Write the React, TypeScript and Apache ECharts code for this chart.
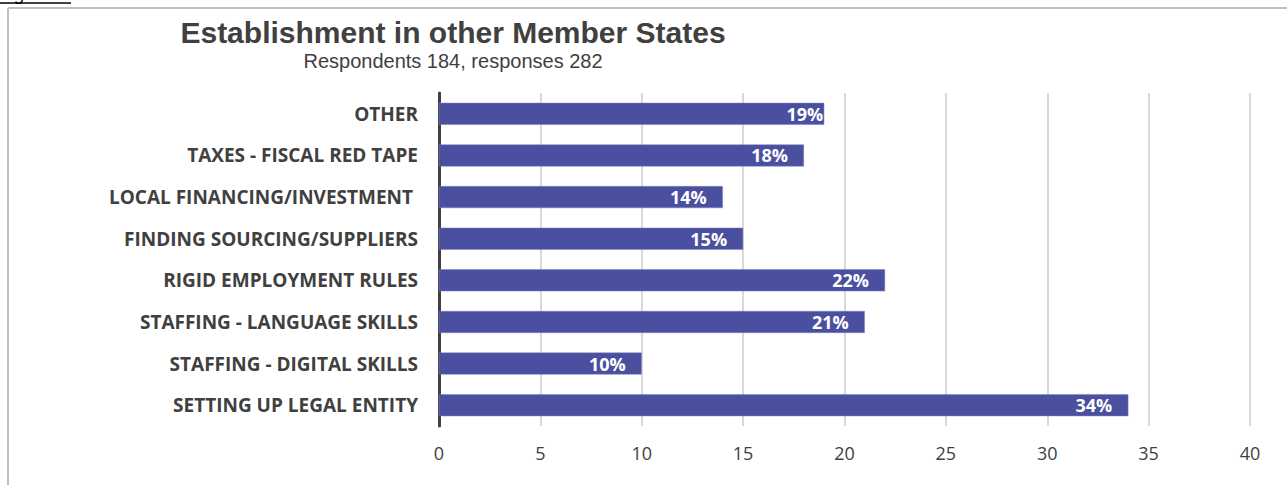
import React, { useEffect, useRef } from "react";
import * as echarts from "echarts";

const categories = [
  "SETTING UP LEGAL ENTITY",
  "STAFFING - DIGITAL SKILLS",
  "STAFFING - LANGUAGE SKILLS",
  "RIGID EMPLOYMENT RULES",
  "FINDING SOURCING/SUPPLIERS",
  "LOCAL FINANCING/INVESTMENT ",
  "TAXES - FISCAL RED TAPE",
  "OTHER",
];
const values = [34, 10, 21, 22, 15, 14, 18, 19];
const titleText = "Establishment in other Member States";
const subtitleText = "Respondents 184, responses 282";
const figText = "Fig. 3";

export default function App() {
  const ref = useRef<HTMLDivElement>(null);
  useEffect(() => {
    if (!ref.current) return;
    const chart = echarts.init(ref.current, null, { renderer: "svg" });
    const seriesData = values.map((v, i) =>
      categories[i] === "OTHER" ? { value: v, label: { distance: 1 } } : { value: v }
    );
    chart.setOption({
      animation: false,
      backgroundColor: "#ffffff",
      title: {
        text: titleText,
        subtext: subtitleText,
        left: 448,
        textAlign: "center",
        top: 12,
        itemGap: 4,
        textStyle: {
          fontFamily: "Liberation Sans, Arial, sans-serif",
          fontSize: 30,
          fontWeight: "bold",
          color: "#404040",
        },
        subtextStyle: {
          fontFamily: "Liberation Sans, Arial, sans-serif",
          fontSize: 20,
          color: "#404040",
        },
      },
      graphic: [
        {
          type: "line",
          shape: { x1: 8, y1: 8, x2: 1300, y2: 8 },
          style: { stroke: "#bfbfbf", lineWidth: 2 },
        },
        {
          type: "line",
          shape: { x1: 8, y1: 8, x2: 8, y2: 500 },
          style: { stroke: "#bfbfbf", lineWidth: 2 },
        },
        {
          type: "text",
          x: 0,
          y: -15,
          style: {
            text: figText,
            fontFamily: "Liberation Sans, Arial, sans-serif",
            fontSize: 18,
            fontStyle: "italic",
            fill: "#000000",
          },
        },
        {
          type: "line",
          shape: { x1: 0, y1: 3, x2: 71, y2: 3 },
          style: { stroke: "#000000", lineWidth: 1.5 },
        },
      ],
      grid: { left: 439, right: 37, top: 93, bottom: 59, containLabel: false },
      xAxis: {
        type: "value",
        min: 0,
        max: 40,
        interval: 5,
        axisLine: { show: false },
        axisTick: { show: false },
        splitLine: { show: true, lineStyle: { color: "#d9d9d9", width: 2 } },
        axisLabel: {
          margin: 18,
          fontFamily: "Open Sans, Noto Sans, sans-serif",
          fontSize: 18,
          color: "#404040",
        },
      },
      yAxis: {
        type: "category",
        data: categories,
        axisLine: { show: true, lineStyle: { color: "#404040", width: 3 } },
        axisTick: { show: false },
        splitLine: { show: false },
        axisLabel: {
          margin: 21,
          fontFamily: "Open Sans, Noto Sans, sans-serif",
          fontSize: 19,
          fontWeight: "bold",
          color: "#404040",
        },
      },
      series: [
        {
          type: "bar",
          data: seriesData,
          barWidth: 22,
          itemStyle: { color: "#4a4f9f", borderColor: "#7d82c0", borderWidth: 0.5 },
          label: {
            show: true,
            position: "insideRight",
            distance: 16,
            formatter: (p: any) => p.value + "%",
            fontFamily: "Open Sans, Noto Sans, sans-serif",
            fontSize: 18,
            fontWeight: "bold",
            color: "#ffffff",
          },
        },
      ],
    });
    return () => chart.dispose();
  }, []);
  return (
    <div
      ref={ref}
      style={{ position: "absolute", left: 0, top: 0, width: 1287, height: 485 }}
    />
  );
}
